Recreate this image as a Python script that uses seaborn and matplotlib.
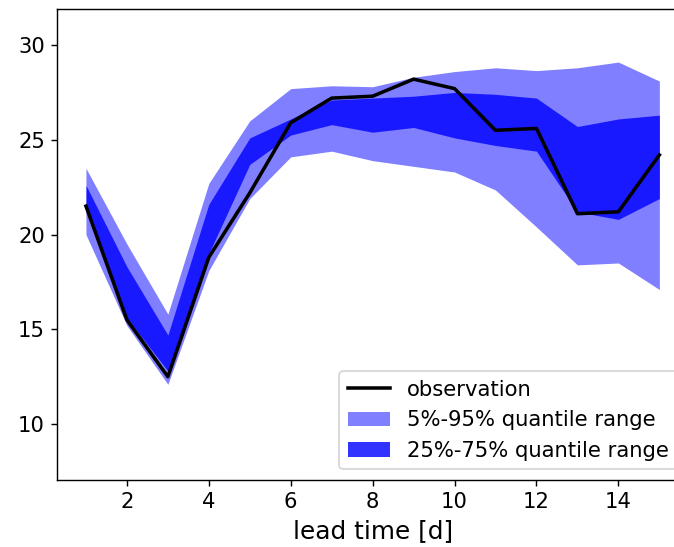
import matplotlib
matplotlib.use("Agg")
import matplotlib.pyplot as plt
import seaborn as sns
import pandas as pd

# Forecast lead times (days)
lead_time = [1, 2, 3, 4, 5, 6, 7, 8, 9, 10, 11, 12, 13, 14, 15]

# Observed values
observation = [21.5, 15.5, 12.5, 18.8, 22.2, 25.9, 27.2, 27.3, 28.2, 27.7,
               25.5, 25.6, 21.1, 21.2, 24.2]

# Ensemble quantiles
q05 = [20.0, 15.2, 12.1, 18.1, 21.9, 24.1, 24.4, 23.9, 23.6, 23.3,
       22.35, 20.4, 18.4, 18.5, 17.1]
q25 = [21.4, 15.6, 12.8, 19.0, 23.7, 25.25, 25.8, 25.4, 25.65, 25.1,
       24.7, 24.4, 21.2, 20.8, 21.9]
q75 = [22.6, 18.3, 14.7, 21.6, 25.1, 26.1, 27.1, 27.2, 27.3, 27.5,
       27.4, 27.2, 25.7, 26.1, 26.3]
q95 = [23.5, 19.5, 15.8, 22.7, 26.0, 27.7, 27.85, 27.8, 28.3, 28.6,
       28.8, 28.65, 28.8, 29.1, 28.1]

df = pd.DataFrame({"lead": lead_time, "obs": observation,
                   "q05": q05, "q25": q25, "q75": q75, "q95": q95})

DPI = 127
fig = plt.figure(figsize=(674 / DPI, 547 / DPI), dpi=DPI)
ax = fig.add_axes([0.0850, 0.1225, 0.9358, 0.8610])

band_outer = ax.fill_between(df["lead"], df["q05"], df["q95"], color="blue",
                             alpha=0.5, linewidth=0,
                             label="5%-95% quantile range")
band_inner = ax.fill_between(df["lead"], df["q25"], df["q75"], color="blue",
                             alpha=0.8, linewidth=0,
                             label="25%-75% quantile range")
sns.lineplot(data=df, x="lead", y="obs", color="black", linewidth=2,
             label="observation", ax=ax, zorder=3)
obs_line = ax.lines[-1]

ax.set_xlim(0.3, 15.7)
ax.set_ylim(7.05, 31.9)
ax.set_xticks([2, 4, 6, 8, 10, 12, 14])
ax.set_yticks([10, 15, 20, 25, 30])
ax.tick_params(labelsize=12)
ax.set_xlabel("lead time [d]", fontsize=14)
ax.set_ylabel("")

ax.legend([obs_line, band_outer, band_inner],
          ["observation", "5%-95% quantile range", "25%-75% quantile range"],
          loc="lower right", fontsize=12)

fig.savefig("out.png", dpi=DPI)
